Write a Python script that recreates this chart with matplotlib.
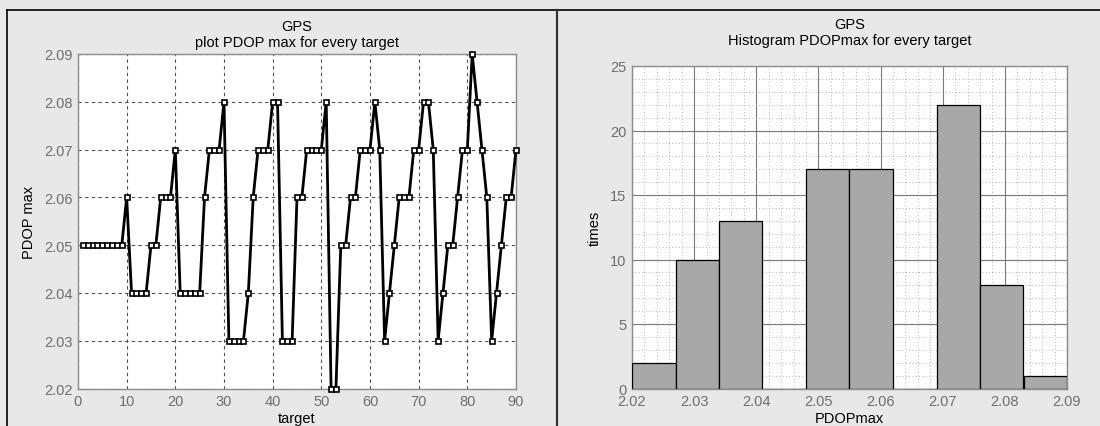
import matplotlib
matplotlib.use("Agg")
import matplotlib.pyplot as plt
from matplotlib.lines import Line2D
from matplotlib.ticker import MultipleLocator

# PDOP max per target (targets 1..90)
pdop_max = [
    2.05, 2.05, 2.05, 2.05, 2.05, 2.05, 2.05, 2.05, 2.05, 2.06,
    2.04, 2.04, 2.04, 2.04, 2.05, 2.05, 2.06, 2.06, 2.06, 2.07,
    2.04, 2.04, 2.04, 2.04, 2.04, 2.06, 2.07, 2.07, 2.07, 2.08,
    2.03, 2.03, 2.03, 2.03, 2.04, 2.06, 2.07, 2.07, 2.07, 2.08,
    2.08, 2.03, 2.03, 2.03, 2.06, 2.06, 2.07, 2.07, 2.07, 2.07,
    2.08, 2.02, 2.02, 2.05, 2.05, 2.06, 2.06, 2.07, 2.07, 2.07,
    2.08, 2.07, 2.03, 2.04, 2.05, 2.06, 2.06, 2.06, 2.07, 2.07,
    2.08, 2.08, 2.07, 2.03, 2.04, 2.05, 2.05, 2.06, 2.07, 2.07,
    2.09, 2.08, 2.07, 2.06, 2.03, 2.04, 2.05, 2.06, 2.06, 2.07,
]
targets = list(range(1, len(pdop_max) + 1))

x_ticks_left = [0, 10, 20, 30, 40, 50, 60, 70, 80, 90]
y_ticks_left = [2.02, 2.03, 2.04, 2.05, 2.06, 2.07, 2.08, 2.09]
x_ticks_hist = [2.02, 2.03, 2.04, 2.05, 2.06, 2.07, 2.08, 2.09]
y_ticks_hist = [0, 5, 10, 15, 20, 25]

W, H = 1100, 427
BG = "#e8e8e8"
TICK_COLOR = "#6e6e6e"
SPINE_COLOR = "#8c8c8c"

plt.rcParams["font.family"] = ["Liberation Sans", "DejaVu Sans"]

fig = plt.figure(figsize=(W / 100, H / 100), dpi=100, facecolor=BG)


def fx(px):
    return px / W


def fy(py):
    return 1 - py / H


# panel frame lines
fig.add_artist(Line2D([fx(7), 1], [fy(10.7), fy(10.7)], color="black", lw=1.2))
fig.add_artist(Line2D([fx(7), fx(7)], [fy(10.7), 0], color="black", lw=1.2))
fig.add_artist(Line2D([fx(557), fx(557)], [fy(10.7), 0], color="#333333", lw=1.6))


def style_axes(ax):
    ax.set_facecolor("white")
    for s in ax.spines.values():
        s.set_color(SPINE_COLOR)
        s.set_linewidth(1.0)
    ax.tick_params(axis="both", which="both", length=0, colors=TICK_COLOR,
                   labelsize=10.5, pad=4)


# ---------- left: PDOP max per target ----------
ax1 = fig.add_axes([fx(78), fy(389.5), fx(516) - fx(78), fy(55) - fy(389.5)])
style_axes(ax1)
ax1.plot(targets, pdop_max, color="black", lw=2.0, marker="s", ms=3.6,
         mfc="white", mec="black", mew=1.2, clip_on=False, zorder=3)
ax1.set_xlim(0, 90)
ax1.set_ylim(2.02, 2.09)
ax1.set_xticks(x_ticks_left)
ax1.set_yticks(y_ticks_left)
ax1.set_yticklabels([f"{v:.2f}" for v in y_ticks_left])
ax1.grid(True, color="#505050", linestyle=(0, (3, 3)), linewidth=0.8)
ax1.set_axisbelow(True)
ax1.set_xlabel("target", fontsize=10.5, labelpad=2)
ax1.set_ylabel("PDOP max", fontsize=10.5, labelpad=6)
ax1.text(0.5, 1.015, "GPS\nplot PDOP max for every target", transform=ax1.transAxes,
         ha="center", va="bottom", fontsize=10.5, linespacing=1.15)

# ---------- right: histogram ----------
ax2 = fig.add_axes([fx(632), fy(389.5), fx(1067) - fx(632), fy(67) - fy(389.5)])
style_axes(ax2)
ax2.hist(pdop_max, bins=10, color="#a8a8a8", edgecolor="black", linewidth=0.9,
         zorder=3)
ax2.set_xlim(2.02, 2.09)
ax2.set_ylim(0, 25)
ax2.set_xticks(x_ticks_hist)
ax2.set_xticklabels([f"{v:.2f}" for v in x_ticks_hist])
ax2.set_yticks(y_ticks_hist)
ax2.xaxis.set_minor_locator(MultipleLocator(0.002))
ax2.yaxis.set_minor_locator(MultipleLocator(1))
ax2.grid(True, which="major", color="#7a7a7a", linestyle="-", linewidth=0.8)
ax2.grid(True, which="minor", color="#9a9a9a", linestyle=(0, (1, 3)), linewidth=0.6)
ax2.set_axisbelow(True)
ax2.set_xlabel("PDOPmax", fontsize=10.5, labelpad=2)
ax2.set_ylabel("times", fontsize=10.5, labelpad=6)
ax2.text(0.5, 1.06, "GPS\nHistogram PDOPmax for every target", transform=ax2.transAxes,
         ha="center", va="bottom", fontsize=10.5, linespacing=1.15)

fig.savefig("out.png", dpi=100, facecolor=BG)
